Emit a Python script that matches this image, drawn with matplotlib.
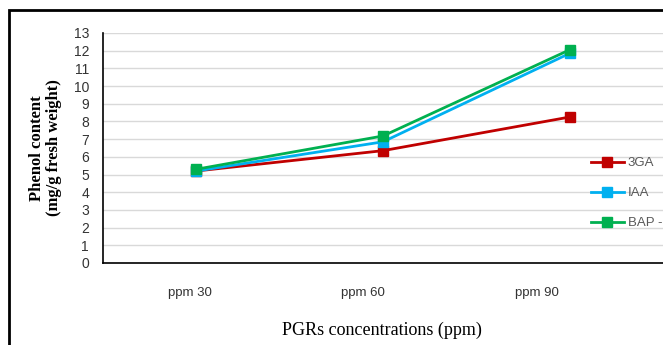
import matplotlib
matplotlib.use("Agg")
import matplotlib.pyplot as plt
import matplotlib.transforms as mtransforms
from matplotlib.patches import Rectangle

categories = ["ppm 30", "ppm 60", "ppm 90"]
series_names = ["3GA", "IAA", "BAP -6"]
ga3 = [5.2, 6.35, 8.25]
iaa = [5.2, 6.85, 11.85]
bap = [5.3, 7.18, 12.05]
colors = ["#C00000", "#00B0F0", "#00B050"]
yticks = list(range(0, 14))

W, H = 663, 345
fig = plt.figure(figsize=(W / 100, H / 100), dpi=100)
fig.patch.set_facecolor("white")

left_px, right_px, top_px, bottom_px = 103, 663, 33, 263
ax = fig.add_axes([left_px / W, 1 - bottom_px / H, (right_px - left_px) / W, (bottom_px - top_px) / H])

x = list(range(len(categories)))
for vals, name, c in zip([ga3, iaa, bap], series_names, colors):
    ax.plot(x, vals, color=c, lw=2.0, marker="s", ms=7, mfc=c, mec=c, label=name, zorder=3)

ax.set_xlim(-0.5, len(categories) - 0.5)
ax.set_ylim(0, 13)
ax.set_yticks(yticks)
ax.set_yticklabels([str(v) for v in yticks], fontsize=10, color="#333333", family="Liberation Sans")
ax.set_xticks(x)
ax.set_xticklabels(categories, fontsize=9.5, color="#333333", family="Liberation Sans")
ax.tick_params(axis="y", length=0, pad=10)
ax.tick_params(axis="x", length=0, pad=17)
ax.grid(axis="y", color="#d9d9d9", lw=1.0)
ax.set_axisbelow(True)
for s in ["top", "right"]:
    ax.spines[s].set_visible(False)
for s in ["left", "bottom"]:
    ax.spines[s].set_color("black")
    ax.spines[s].set_linewidth(1.2)

# tick labels appear slightly compressed toward the left
span_px = (right_px - left_px) / len(categories)
for i, lab in enumerate(ax.get_xticklabels()):
    dx = -(0.5 + i) * span_px * 0.07
    lab.set_transform(lab.get_transform() + mtransforms.ScaledTranslation(dx / 100, 0, fig.dpi_scale_trans))

ax.set_ylabel("Phenol content\n(mg/g fresh weight)", fontsize=12, family="Liberation Serif",
              fontweight="bold", linespacing=1.15, labelpad=8)
fig.text(382 / W, 1 - 330 / H, "PGRs concentrations (ppm)", fontsize=13, family="Liberation Serif",
         ha="center", va="center")

leg = ax.legend(loc="upper left", bbox_to_anchor=(591 / W, 1 - 157 / H), bbox_transform=fig.transFigure,
                frameon=False, handlelength=2.5, handletextpad=0.3, labelspacing=1.35,
                borderpad=0, borderaxespad=0, prop={"family": "Liberation Sans", "size": 9.5})
for t in leg.get_texts():
    t.set_color("#595959")

fig.patches.append(Rectangle((8.5 / W, -0.1), 1.2, 1 - 10 / H + 0.1, transform=fig.transFigure,
                             fill=False, ec="black", lw=2, clip_on=False))

fig.savefig("out.png", dpi=100)
